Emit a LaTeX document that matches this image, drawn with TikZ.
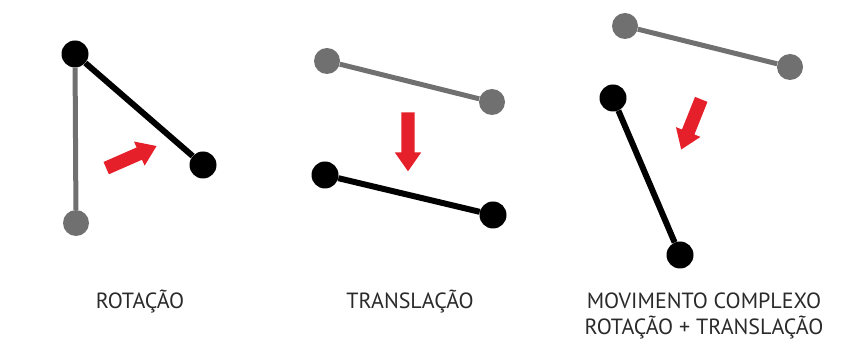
\documentclass[tikz,border=0pt]{standalone}
\usepackage{fontspec}
\setmainfont{PT Sans}
\usetikzlibrary{shapes.arrows}
\definecolor{dotgray}{HTML}{707070}
\definecolor{arrred}{HTML}{E5202A}
\definecolor{txt}{HTML}{2A2A2A}
\begin{document}
\begin{tikzpicture}[x=1pt,y=-1pt,
  gdot/.style={circle,fill=dotgray,minimum size=26pt,inner sep=0pt},
  bdot/.style={circle,fill=black,minimum size=27pt,inner sep=0pt},
  gline/.style={draw=dotgray,line width=5pt},
  bline/.style={draw=black,line width=6pt},
  movearrow/.style={single arrow,fill=arrred,inner xsep=0pt,inner ysep=6.5pt,minimum width=0pt,
    single arrow head extend=6.5pt,single arrow head indent=0pt,single arrow tip angle=70,minimum height=#1},
  lbl/.style={font=\fontsize{22}{26}\selectfont,text=txt,align=center,inner sep=0pt}]
\useasboundingbox (0,0) rectangle (855,355);
% panel 1: rotation
\node[gdot] (p1g) at (76,223) {};
\node[bdot] (p1a) at (75,54) {};
\node[bdot] (p1b) at (203,165) {};
\draw[gline] (p1a) -- (p1g);
\draw[bline] (p1a) -- (p1b);
\node[movearrow=55pt,rotate=23.7] (ar1) at (127,159) {};
% panel 2: translation
\node[gdot] (p2a) at (327,61) {};
\node[gdot] (p2b) at (492,102) {};
\draw[gline] (p2a) -- (p2b);
\node[bdot] (p2c) at (325,175) {};
\node[bdot] (p2d) at (493,215) {};
\draw[bline] (p2c) -- (p2d);
\node[movearrow=59pt,rotate=-90] (ar2) at (408,137) {};
% panel 3: complex movement
\node[gdot] (p3a) at (625,26) {};
\node[gdot] (p3b) at (790,67) {};
\draw[gline] (p3a) -- (p3b);
\node[bdot] (p3c) at (613,98) {};
\node[bdot] (p3d) at (680,255) {};
\draw[bline] (p3c) -- (p3d);
\node[movearrow=54pt,rotate=-111.8] (ar3) at (693,120) {};
% labels
\node[lbl] (t1) at (140,302) {ROTAÇÃO};
\node[lbl] (t2) at (410,302) {TRANSLAÇÃO};
\node[lbl] (t3) at (704,316) {MOVIMENTO COMPLEXO\\ROTAÇÃO + TRANSLAÇÃO};
\end{tikzpicture}
\end{document}
